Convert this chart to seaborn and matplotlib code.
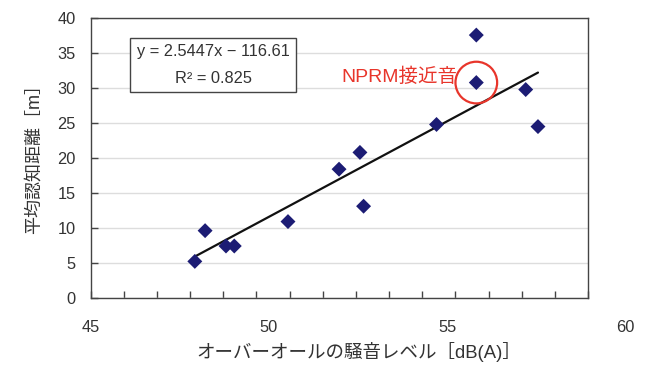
import matplotlib
matplotlib.use('Agg')
import matplotlib.pyplot as plt
import matplotlib.transforms as mtransforms
import seaborn as sns
import pandas as pd

# noise level [dB(A)] vs mean recognition distance [m]
noise_db = [48.14, 48.45, 49.08, 49.33, 50.95, 52.49, 53.12, 53.23, 55.43, 56.63, 56.63, 58.12, 58.49]
distance_m = [5.2, 9.6, 7.4, 7.4, 10.9, 18.4, 20.8, 13.1, 24.8, 37.6, 30.8, 29.8, 24.5]

# highlighted point (NPRM approach sound)
nprm_db = [56.63]
nprm_m = [30.8]

# linear fit reported on the chart
slope = 2.5447
intercept = -116.61
r2 = 0.825

x_ticks = [45, 50, 55, 60]
y_ticks = [0, 5, 10, 15, 20, 25, 30, 35, 40]

sns.set_style('white')
plt.rcParams['font.family'] = ['Liberation Sans', 'Noto Sans CJK JP']

df = pd.DataFrame({'noise': noise_db, 'dist': distance_m})
fit = pd.DataFrame({'noise': [min(noise_db), max(noise_db)]})
fit['dist'] = slope * fit['noise'] + intercept

fig = plt.figure(figsize=(6.68, 3.72), dpi=100)
ax = fig.add_axes([0.1358, 0.1997, 0.7445, 0.7511])

ax.yaxis.grid(True, color='#dddddd', lw=1)
ax.set_axisbelow(True)

sns.lineplot(data=fit, x='noise', y='dist', color='#111111', lw=1.6, ax=ax, zorder=2)
sns.scatterplot(data=df, x='noise', y='dist', marker='D', s=58, color='#1c1c74',
                edgecolor='none', ax=ax, zorder=3)
sns.scatterplot(x=nprm_db, y=nprm_m, marker='o', s=900, facecolor='none',
                edgecolor='#e8352b', linewidth=1.6, ax=ax, zorder=4)

ax.set_xlim(45, 60)
ax.set_ylim(0, 40)
ax.set_xticks(x_ticks)
ax.set_xticks(range(45, 61), minor=True)
ax.set_yticks(y_ticks)
ax.tick_params(axis='both', which='both', direction='in', length=5, width=1,
               color='#444444', labelsize=11.8, labelcolor='#333333')
ax.tick_params(axis='x', which='both', pad=16, top=False, bottom=True)
ax.tick_params(axis='y', pad=11, left=True)
for s in ax.spines.values():
    s.set_color('#444444')
    s.set_linewidth(1)

# the original chart's x labels drift to the right of their ticks
for lab, v in zip(ax.get_xticklabels(), x_ticks):
    off = mtransforms.ScaledTranslation((v - 45) / 15 * 0.373, 0, fig.dpi_scale_trans)
    lab.set_transform(lab.get_transform() + off)

ax.set_xlabel('オーバーオールの騒音レベル［dB(A)］', fontsize=13.3, color='#333333')
ax.set_ylabel('平均認知距離［m］', fontsize=13, color='#333333')
ax.xaxis.set_label_coords(0.54, -0.16)
ax.yaxis.set_label_coords(-0.096, 0.511)

ax.text(0.246, 0.833, f'y = {slope}x − {abs(intercept)}\nR² = {r2}', transform=ax.transAxes,
        ha='center', va='center', fontsize=11.8, color='#333333', linespacing=1.95,
        bbox=dict(boxstyle='square,pad=0.38', fc='white', ec='#444444', lw=1))

ax.text(0.62, 0.791, 'NPRM接近音', transform=ax.transAxes, ha='center', va='center',
        fontsize=14, color='#e8352b')

fig.savefig('out.png', dpi=100)
